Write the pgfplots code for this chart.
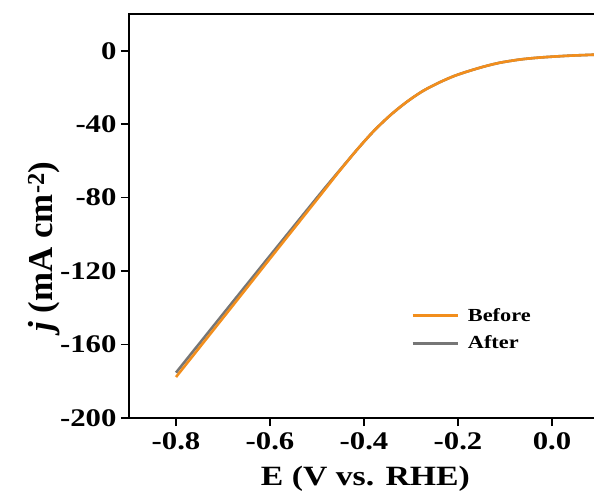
\documentclass[border=0pt]{standalone}
\usepackage{fontspec}
\setmainfont{Liberation Serif}[FakeStretch=1.21]
\newfontfamily\ylabfont{Liberation Serif}
\usepackage{pgfplots}
\pgfplotsset{compat=1.18}
\definecolor{beforec}{RGB}{242,142,28}
\definecolor{afterc}{RGB}{118,118,118}
\begin{document}
\begin{tikzpicture}
\begin{axis}[
  scale only axis,
  width=470bp, height=404bp,
  xmin=-0.9, xmax=0.1,
  ymin=-200, ymax=20,
  xtick={-0.8,-0.6,-0.4,-0.2,0},
  xticklabels={-0.8,-0.6,-0.4,-0.2,0.0},
  ytick={-200,-160,-120,-80,-40,0},
  yticklabels={-200,-160,-120,-80,-40,0},
  xtick pos=left, ytick pos=left,
  tick align=outside,
  major tick length=8bp,
  every tick/.style={line width=1.6bp, black},
  axis line style={line width=1.8bp},
  ticklabel style={font=\fontsize{25.5}{28}\selectfont\bfseries},
  xticklabel style={yshift=-3bp},
  yticklabel style={xshift=-1bp},
  xlabel={E (V vs. RHE)},
  every axis x label/.style={at={(rel axis cs:0.503,0)}, anchor=base, yshift=-67bp},
  xlabel style={font=\fontsize{28}{30}\selectfont\bfseries},
  ylabel={\textit{j} (mA cm\textsuperscript{-2})},
  every axis y label/.style={at={(rel axis cs:0,0.4245)}, xshift=-76bp, rotate=90, anchor=base},
  ylabel style={font=\ylabfont\fontsize{35}{37}\selectfont\bfseries},
  legend style={draw=none, fill=none, at={(rel axis cs:0.594,0.219)}, anchor=west,
    font=\fontsize{18.5}{21}\selectfont\bfseries, row sep=9bp},
  legend cell align=left,
  legend image code/.code={\draw[#1] (0bp,0bp) -- (45bp,0bp); \path (52bp,0bp);},
]
\coordinate (TL) at (rel axis cs:0,1);
\coordinate (BL) at (rel axis cs:0,0);
\addplot[afterc, line width=2.6bp, smooth, forget plot] coordinates {
(-0.800,-175.3) (-0.700,-143.4) (-0.600,-111.6) (-0.500,-80.0)
(-0.4681,-70.1) (-0.4511,-64.9) (-0.4149,-53.92) (-0.3809,-44.19)
(-0.3447,-35.27) (-0.3085,-27.77) (-0.2745,-21.90) (-0.2383,-17.12)
(-0.2064,-13.59) (-0.1745,-10.87) (-0.1426,-8.48) (-0.1106,-6.52)
(-0.0681,-4.78) (-0.0255,-3.70) (0.0319,-2.77) (0.0894,-2.17) (0.100,-2.07)
};
\addplot[beforec, line width=2.6bp, smooth] coordinates {
(-0.800,-177.7) (-0.700,-145.5) (-0.600,-113.2) (-0.500,-81.0)
(-0.4681,-70.65) (-0.4511,-65.17) (-0.4149,-53.92) (-0.3809,-44.19)
(-0.3447,-35.27) (-0.3085,-27.77) (-0.2745,-21.90) (-0.2383,-17.12)
(-0.2064,-13.59) (-0.1745,-10.87) (-0.1426,-8.48) (-0.1106,-6.52)
(-0.0681,-4.78) (-0.0255,-3.70) (0.0319,-2.77) (0.0894,-2.17) (0.100,-2.07)
};
\addlegendentry{Before}
\addlegendimage{afterc, line width=2.6bp}
\addlegendentry{After}
\end{axis}
\pgfresetboundingbox
\path ([shift={(-129bp,14bp)}]TL) rectangle ([shift={(465bp,-77bp)}]BL);
\end{tikzpicture}
\end{document}
